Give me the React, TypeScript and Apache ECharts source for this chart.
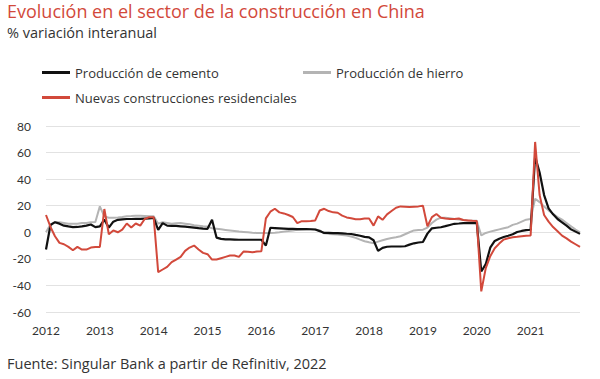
import React, { useEffect, useRef } from "react";
import * as echarts from "echarts";

const years = ["2012", "2013", "2014", "2015", "2016", "2017", "2018", "2019", "2020", "2021"];
const months = ["01", "02", "03", "04", "05", "06", "07", "08", "09", "10", "11", "12"];
const categories: string[] = years.flatMap((y) => months.map((m) => `${y}-${m}`));

const yTicks = { min: -60, max: 80, interval: 20 };

const cemento = [
  -13, 5.5, 7.6, 6.5, 5, 4.4, 3.9, 4, 4.4, 5, 5.9, 3.9,
  4.4, 9.5, 3.5, 8, 9.4, 9.7, 10, 10, 10.1, 10.1, 10.3, 10.5,
  10.8, 1.8, 6.9, 5, 4.8, 4.8, 4.5, 4.2, 3.9, 3.5, 3.1, 2.8,
  2.6, 9.4, -4, -5, -5.3, -5.4, -5.5, -5.6, -5.6, -5.6, -5.6, -5.6,
  -5.6, -10, 3.4, 3.2, 3, 2.8, 2.6, 2.5, 2.4, 2.4, 2.4, 2.3,
  2.1, 0.9, -0.5, -0.5, -0.6, -0.6, -0.8, -1.1, -1.3, -2, -2.6, -3.5,
  -3.8, -6, -14, -11.7, -10.9, -10.7, -10.7, -10.7, -10.5, -9.3, -8.3, -7.7,
  -7.3, -1, 3, 3.4, 3.8, 4.6, 5.5, 6.4, 6.6, 6.9, 6.9, 6.9,
  6.9, -29.5, -24, -11.6, -6.5, -4.8, -3.6, -2.6, -1.5, 0.2, 1, 1.6,
  1.9, 57, 45, 28, 18, 13.5, 10, 7.5, 5, 2.2, 0.5, -1.2,
];

const hierro = [
  0, 6, 7.5, 7.5, 7, 6.5, 6.4, 6.5, 7, 7, 7.5, 7.8,
  19.5, 12, 11, 11, 11.2, 11.5, 12, 12.2, 12.5, 12.5, 12.3, 12,
  12, 6.5, 7.5, 7, 6.5, 6.8, 7, 6.5, 6, 5.3, 5, 4.5,
  4.3, 3, 2.6, 2.2, 1.8, 1.4, 1, 0.6, 0.3, 0, -0.3, -0.5,
  -0.6, -0.6, -0.6, -0.4, 0, 0.5, 0.9, 1.4, 1.9, 2.1, 2.2, 2.2,
  2.1, 1.4, -0.8, -1.2, -1.5, -1.7, -2, -2.4, -3.2, -4.2, -5.5, -6.7,
  -7.5, -8.2, -7, -6, -5, -4.3, -3.8, -3, -1.5, 0, 1.4, 1.8,
  2, 3.5, 7, 9.5, 11, 11, 10.5, 10, 9.6, 9.2, 8.8, 8.6,
  8.6, -2.4, -0.5, 0.5, 1.4, 2.2, 3, 3.8, 5.6, 6.5, 8, 9.5,
  10, 25.3, 22.7, 19.5, 16.5, 14, 11.5, 9.5, 7, 4.5, 2, 0,
];

const residenciales = [
  13, 4, -3, -8, -9, -11, -13.5, -11, -13, -13, -11.5, -11,
  -11, 17.5, -1.5, 1.4, 0, 2, 6.6, 3.6, 6.6, 5, 10, 11.4,
  11.4, -30, -28, -26, -22.5, -20.5, -18.5, -14, -11.5, -10, -13, -15.5,
  -16.5, -20.5, -20.5, -19.5, -18.5, -17.5, -17.5, -18.5, -14.5, -14.7, -15, -14.5,
  -14.2, 10.5, 15.5, 17.7, 15, 14.2, 13, 11.5, 6.9, 8.4, 8.4, 8.5,
  8.9, 16.4, 17.7, 16, 15, 14.7, 12.5, 11.2, 10.6, 9.8, 9.8, 10.4,
  10.4, 5, 12, 9.4, 13.5, 16, 18.5, 19.5, 19.3, 19, 19.3, 19.5,
  20, 4.5, 11.4, 13.8, 11, 10.4, 10, 10, 10.4, 9.2, 8.9, 8.6,
  8.5, -44.5, -27, -18, -12, -8.5, -5.5, -4.5, -3.7, -3.4, -3, -2.6,
  -2.4, 68, 28, 13, 8, 3.9, 0.8, -2.5, -4.6, -7, -9, -11,
];

const FONT = "'Open Sans', Lato, sans-serif";
const AXIS_FONT = "Lato, 'Open Sans', sans-serif";
const RED = "#d2493b";
const GRAY = "#b4b4b4";
const BLACK = "#111111";

export default function App() {
  const ref = useRef<HTMLDivElement>(null);
  useEffect(() => {
    if (!ref.current) return;
    const chart = echarts.init(ref.current, undefined, { renderer: "svg" });
    const legendBase = {
      icon: "rect",
      itemWidth: 28,
      itemHeight: 3,
      textStyle: { fontFamily: FONT, fontSize: 13, color: "#333" },
      padding: 0,
    };
    chart.setOption({
      animation: false,
      textStyle: { fontFamily: FONT },
      title: [
        {
          text: "Evolución en el sector de la construcción en China",
          left: 7,
          top: 2,
          padding: 0,
          textStyle: { fontFamily: FONT, fontSize: 18, fontWeight: "normal", color: RED },
        },
        {
          text: "% variación interanual",
          left: 7,
          top: 25,
          padding: 0,
          textStyle: { fontFamily: FONT, fontSize: 14.5, fontWeight: "normal", color: "#333" },
        },
        {
          text: "Fuente: Singular Bank a partir de Refinitiv, 2022",
          left: 7,
          top: 356,
          padding: 0,
          textStyle: { fontFamily: FONT, fontSize: 14.5, fontWeight: "normal", color: "#333" },
        },
      ],
      legend: [
        { ...legendBase, data: ["Producción de cemento"], left: 42, top: 66 },
        { ...legendBase, data: ["Producción de hierro"], left: 303, top: 66 },
        { ...legendBase, data: ["Nuevas construcciones residenciales"], left: 42, top: 91 },
      ],
      grid: { left: 46, right: 20, top: 126, bottom: 67, containLabel: false },
      xAxis: {
        type: "category",
        data: categories,
        boundaryGap: false,
        axisLine: { show: false },
        axisTick: { show: false },
        splitLine: { show: false },
        axisLabel: {
          interval: (idx: number) => idx % 12 === 0,
          formatter: (v: string) => v.slice(0, 4),
          fontFamily: AXIS_FONT,
          fontSize: 12,
          color: "#333",
          margin: 12,
        },
      },
      yAxis: {
        type: "value",
        min: yTicks.min,
        max: yTicks.max,
        interval: yTicks.interval,
        axisLine: { show: false },
        axisTick: { show: false },
        splitLine: { lineStyle: { color: "#e2e2e2", width: 1 } },
        axisLabel: { fontFamily: AXIS_FONT, fontSize: 12, color: "#333", margin: 15 },
      },
      series: [
        {
          name: "Producción de hierro",
          type: "line",
          data: hierro,
          showSymbol: false,
          symbol: "none",
          lineStyle: { color: GRAY, width: 2 },
          itemStyle: { color: GRAY },
          z: 2,
        },
        {
          name: "Producción de cemento",
          type: "line",
          data: cemento,
          showSymbol: false,
          symbol: "none",
          lineStyle: { color: BLACK, width: 2.2 },
          itemStyle: { color: BLACK },
          z: 3,
        },
        {
          name: "Nuevas construcciones residenciales",
          type: "line",
          data: residenciales,
          showSymbol: false,
          symbol: "none",
          lineStyle: { color: RED, width: 2 },
          itemStyle: { color: RED },
          z: 4,
        },
      ],
    });
    return () => chart.dispose();
  }, []);
  return <div ref={ref} style={{ width: 600, height: 379, position: "absolute", left: 0, top: 0 }} />;
}
